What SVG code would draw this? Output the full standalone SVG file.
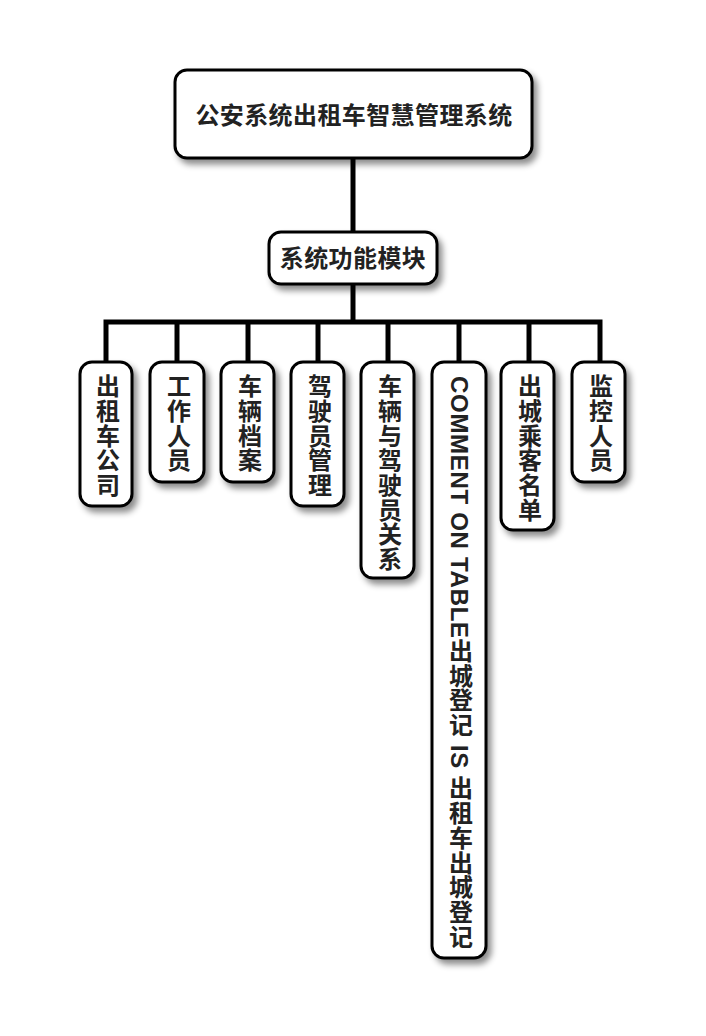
<svg xmlns="http://www.w3.org/2000/svg" width="706" height="1036" viewBox="0 0 706 1036">
<defs>
<filter id="sh" x="-30%" y="-30%" width="160%" height="160%">
<feDropShadow dx="4" dy="5" stdDeviation="3" flood-color="#000" flood-opacity="0.45"/>
</filter>
<style>
.box{fill:#fff;stroke:#000;stroke-width:3;filter:url(#sh)}
.t{font-family:"Liberation Sans","Noto Sans CJK SC",sans-serif;font-weight:bold;font-size:24px;fill:#222;letter-spacing:0.4px}
.v{font-family:"Liberation Sans","Noto Sans CJK SC",sans-serif;font-weight:bold;font-size:24px;fill:#222;writing-mode:vertical-rl;letter-spacing:0.7px}
.ln{stroke:#000;stroke-width:5;fill:none}
</style>
</defs>
<rect width="706" height="1036" fill="#fff"/>
<g id="connectors">
<line class="ln" x1="353" y1="158" x2="353" y2="232"/>
<line class="ln" x1="353" y1="284" x2="353" y2="322"/>
<polyline class="ln" points="106,362 106,322 600,322 600,362"/>
<line class="ln" x1="177" y1="322" x2="177" y2="362"/>
<line class="ln" x1="248" y1="322" x2="248" y2="362"/>
<line class="ln" x1="318" y1="322" x2="318" y2="362"/>
<line class="ln" x1="388" y1="322" x2="388" y2="362"/>
<line class="ln" x1="459" y1="322" x2="459" y2="362"/>
<line class="ln" x1="529" y1="322" x2="529" y2="362"/>
</g>
<g id="root"><rect class="box" x="175" y="70" width="357" height="88" rx="12"/><text class="t" x="354" y="124" text-anchor="middle">公安系统出租车智慧管理系统</text></g>
<g id="module"><rect class="box" x="269" y="232" width="168" height="52" rx="12"/><text class="t" x="353" y="267" text-anchor="middle">系统功能模块</text></g>
<g id="n1"><rect class="box" x="80" y="362" width="52" height="144" rx="12"/><text class="v" x="106" y="374">出租车公司</text></g>
<g id="n2"><rect class="box" x="150" y="362" width="54" height="120" rx="12"/><text class="v" x="177" y="374">工作人员</text></g>
<g id="n3"><rect class="box" x="221" y="362" width="53" height="120" rx="12"/><text class="v" x="248" y="374">车辆档案</text></g>
<g id="n4"><rect class="box" x="291" y="362" width="53" height="144" rx="12"/><text class="v" x="318" y="374">驾驶员管理</text></g>
<g id="n5"><rect class="box" x="361" y="362" width="53" height="216" rx="12"/><text class="v" x="388" y="374">车辆与驾驶员关系</text></g>
<g id="n6"><rect class="box" x="432" y="362" width="54" height="596" rx="12"/><text class="v" x="459" y="376">COMMENT ON TABLE出城登记 IS 出租车出城登记</text></g>
<g id="n7"><rect class="box" x="501" y="362" width="53" height="168" rx="12"/><text class="v" x="528" y="374">出城乘客名单</text></g>
<g id="n8"><rect class="box" x="572" y="362" width="53" height="120" rx="12"/><text class="v" x="599" y="374">监控人员</text></g>
</svg>
